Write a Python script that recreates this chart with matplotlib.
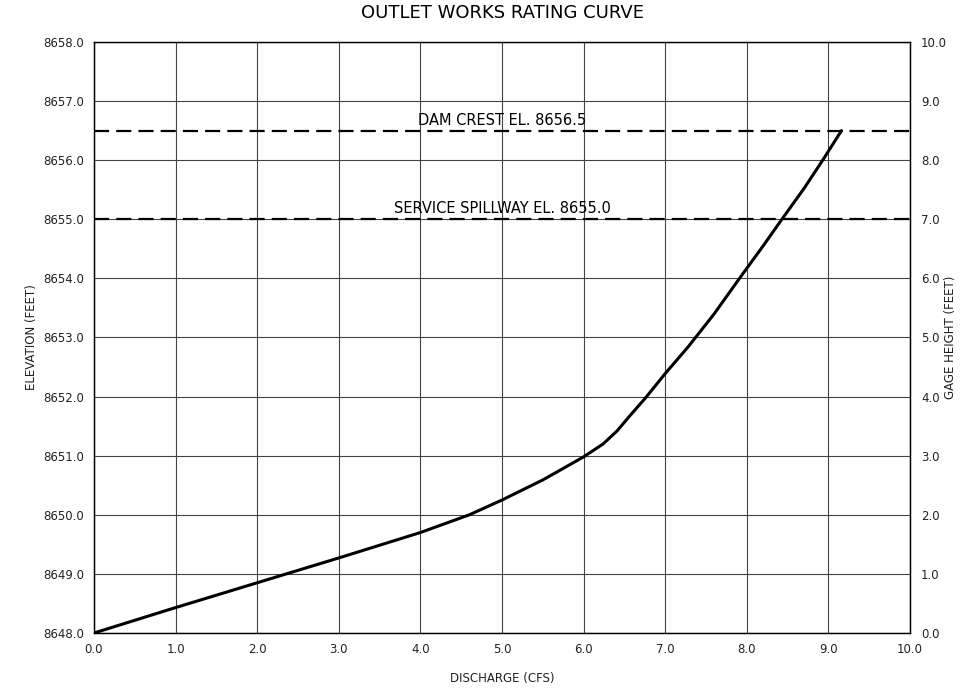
import numpy as np
import matplotlib
matplotlib.use("Agg")
import matplotlib.pyplot as plt

# rating curve
discharge = [0.0, 1.0, 2.0, 3.0, 4.0, 4.6, 5.0, 5.5, 6.0, 6.24, 6.41, 6.57,
             6.76, 7.0, 7.28, 7.60, 7.91, 8.20, 8.43, 8.70, 8.93, 9.16]
elevation = [8648.0, 8648.43, 8648.85, 8649.27, 8649.70, 8650.0, 8650.25,
             8650.59, 8650.98, 8651.20, 8651.42, 8651.68,
             8651.98, 8652.39, 8652.84, 8653.40, 8654.0, 8654.55, 8655.0,
             8655.52, 8656.0, 8656.5]

dam_crest = 8656.5
spillway = 8655.0
datum = 8648.0

plt.rcParams['font.family'] = ['DejaVu Sans']

fig = plt.figure(figsize=(9.8, 6.94), dpi=100)
ax = fig.add_axes([0.0959, 0.0879, 0.8327, 0.8516])

ax.set_xlim(0, 10)
ax.set_ylim(8648, 8658)
ax.set_xticks(np.arange(0, 10.5, 1))
ax.set_yticks(np.arange(8648, 8658.5, 1))
ax.set_xticklabels([f"{v:.1f}" for v in np.arange(0, 10.5, 1)])
ax.set_yticklabels([f"{v:.1f}" for v in np.arange(8648, 8658.5, 1)])
ax.tick_params(length=0, labelsize=8.5, pad=7, labelcolor='#222222')
ax.grid(True, color='#444444', linewidth=0.8)

ax.axhline(dam_crest, color='black', linewidth=1.6, dashes=(6.8, 3.2))
ax.axhline(spillway, color='black', linewidth=1.6, dashes=(6.8, 3.2))
ax.text(5.0, dam_crest + 0.05, "DAM CREST EL. 8656.5", ha='center', va='bottom', fontsize=10.5)
ax.text(5.0, spillway + 0.05, "SERVICE SPILLWAY EL. 8655.0", ha='center', va='bottom', fontsize=10.5)

ax.plot(discharge, elevation, color='black', linewidth=2.2,
        solid_capstyle='round', solid_joinstyle='round')

for s in ax.spines.values():
    s.set_color('black')
    s.set_linewidth(0.9)

ax.set_xlabel("DISCHARGE (CFS)", fontsize=8.5, labelpad=12, color='#222222')
ax.set_ylabel("ELEVATION (FEET)", fontsize=8.5, labelpad=4, color='#222222')
ax.set_title("OUTLET WORKS RATING CURVE", fontsize=13, pad=17)

ax2 = ax.twinx()
ax2.set_ylim(elevation[0] - datum, 10)
ax2.set_yticks(np.arange(0, 10.5, 1))
ax2.set_yticklabels([f"{v:.1f}" for v in np.arange(0, 10.5, 1)])
ax2.tick_params(length=0, labelsize=8.5, pad=8, labelcolor='#222222')
ax2.set_ylabel("GAGE HEIGHT (FEET)", fontsize=8.5, labelpad=-2, color='#222222')
for s in ax2.spines.values():
    s.set_color('black')
    s.set_linewidth(0.9)

fig.savefig("out.png", dpi=100)
